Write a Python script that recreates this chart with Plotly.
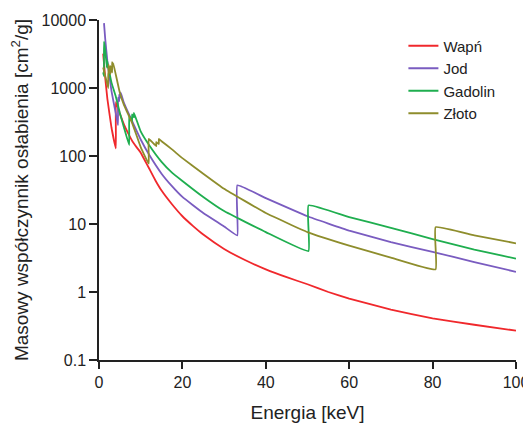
import plotly.graph_objects as go

# Energy [keV] and mass attenuation coefficient [cm^2/g]
ca_energy = [1.0, 1.5, 2.0, 3.0, 4.04, 4.04, 5.0, 6.0, 7.0, 8.0, 9.0, 10.0, 11.0, 12.0, 13.5, 15.0, 17.5, 20.0, 22.5, 25.0, 30.0, 35.0, 40.0, 45.0, 50.0, 55.0, 60.0, 70.0, 80.0, 90.0, 100.0]
ca_mu = [3200, 1400, 700, 260, 130, 620, 420, 290, 215, 165, 135, 112, 86, 66, 44, 31, 19.5, 13, 9.4, 7.0, 4.3, 2.95, 2.15, 1.65, 1.3, 1.0, 0.8, 0.55, 0.41, 0.33, 0.27]

i_energy = [1.2, 1.5, 2.0, 3.0, 4.0, 4.557, 4.557, 4.852, 4.852, 5.188, 5.188, 6.0, 8.0, 10.0, 12.0, 15.0, 17.5, 20.0, 25.0, 30.0, 33.17, 33.17, 40.0, 50.0, 60.0, 70.0, 80.0, 90.0, 100.0]
i_mu = [9000, 5200, 2500, 900, 430, 285, 720, 640, 800, 720, 860, 600, 320, 175, 105, 55, 36, 25, 14.5, 9.2, 6.8, 37, 24, 13, 8.0, 5.4, 3.9, 2.75, 1.98]

gd_energy = [1.0, 1.19, 1.19, 1.5, 1.88, 1.88, 2.0, 3.0, 4.0, 5.0, 6.0, 7.243, 7.243, 7.93, 7.93, 8.376, 8.376, 10.0, 12.0, 15.0, 17.5, 20.0, 25.0, 30.0, 40.0, 50.24, 50.24, 60.0, 70.0, 80.0, 90.0, 100.0]
gd_mu = [1700, 1500, 4800, 3600, 2000, 2600, 2400, 1200, 760, 430, 260, 145, 390, 320, 410, 370, 430, 230, 145, 82, 57, 43, 25, 15.5, 7.6, 4.0, 18.8, 12.6, 8.8, 6.0, 4.2, 3.1]

au_energy = [1.0, 1.5, 2.206, 2.206, 2.291, 2.291, 2.743, 2.743, 3.148, 3.148, 3.425, 3.425, 4.0, 5.0, 6.0, 8.0, 10.0, 11.92, 11.92, 13.73, 13.73, 14.35, 14.35, 15.0, 17.5, 20.0, 25.0, 30.0, 40.0, 50.0, 60.0, 70.0, 80.72, 80.72, 90.0, 100.0]
au_mu = [2000, 1500, 1000, 1700, 1600, 2200, 1600, 2100, 1700, 2400, 2100, 2300, 1600, 850, 560, 300, 135, 77, 178, 140, 160, 150, 178, 165, 125, 93, 55, 33, 14.5, 7.6, 4.8, 3.2, 2.15, 9.0, 6.8, 5.2]

series_names = ["Wapń", "Jod", "Gadolin", "Złoto"]
series_colors = ["#f0282c", "#7a5cc0", "#1fae4f", "#8e8d2c"]

y_tick_vals = [0.1, 1, 10, 100, 1000, 10000]
y_tick_text = ["0.1", "1", "10", "100", "1000", "10000"]
x_tick_vals = [0, 20, 40, 60, 80, 100]

fig = go.Figure()
for name, color, xs, ys in zip(series_names, series_colors,
                               [ca_energy, i_energy, gd_energy, au_energy],
                               [ca_mu, i_mu, gd_mu, au_mu]):
    fig.add_trace(go.Scatter(x=xs, y=ys, mode="lines", name=name,
                             line=dict(color=color, width=1.8, shape="spline", smoothing=0.3)))

font_family = "Liberation Sans, Arial, sans-serif"
# the page body has an 8px margin, so the figure is 8px smaller than the window
fig.update_layout(
    width=523, height=415,
    margin=dict(l=91, r=15, t=12, b=63),
    paper_bgcolor="white", plot_bgcolor="white",
    font=dict(family=font_family, size=16, color="#222222"),
    showlegend=True,
    legend=dict(x=0.73, y=0.972, xanchor="left", yanchor="top",
                bgcolor="rgba(0,0,0,0)", font=dict(size=15, color="#222222"),
                tracegroupgap=0),
    xaxis=dict(range=[0, 100], tickvals=x_tick_vals, showgrid=False, zeroline=False,
               automargin=False,
               showline=True, linecolor="#222222", linewidth=1.5,
               ticks="outside", ticklen=7, tickwidth=1.5, tickcolor="#222222",
               title=dict(text="Energia [keV]", standoff=22)),
    yaxis=dict(type="log", range=[-1, 4], tickvals=y_tick_vals, ticktext=y_tick_text,
               showgrid=False, zeroline=False, automargin=False,
               showline=True, linecolor="#222222", linewidth=1.5,
               ticks="outside", ticklen=8, tickwidth=1.5, tickcolor="#222222",
               title=dict(text="Masowy współczynnik osłabienia [cm<sup>2</sup>/g]", standoff=14)),
)
fig.write_html("out.html")
